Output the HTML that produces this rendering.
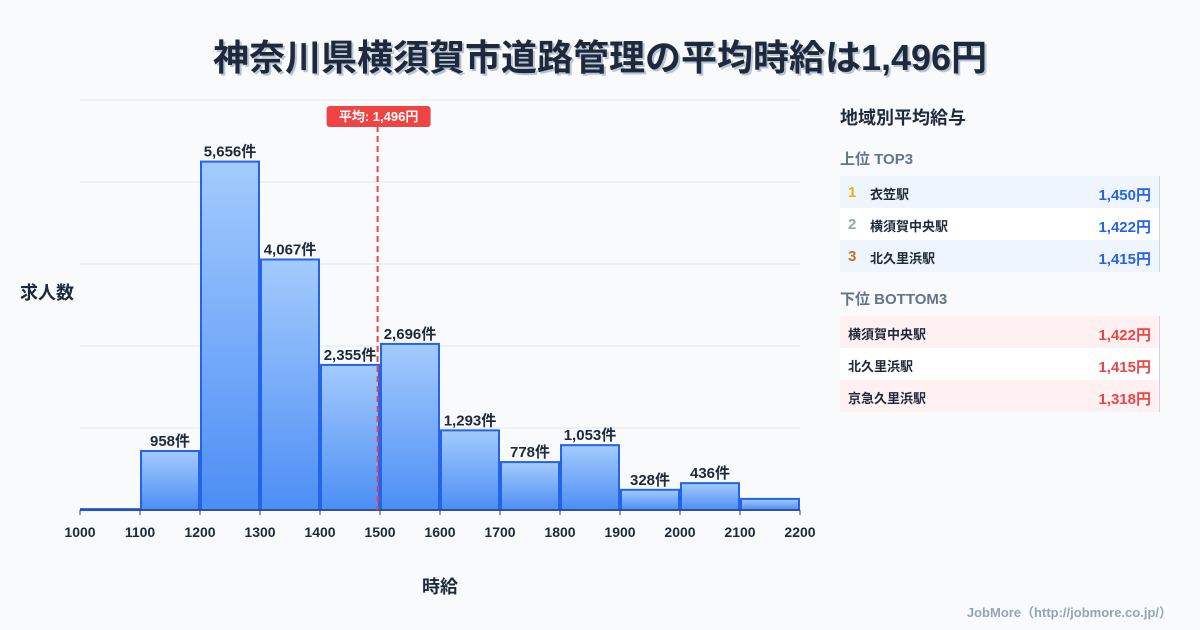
<!DOCTYPE html>
<html><head><meta charset="utf-8"><style>
body{margin:0;width:1200px;height:630px;background:#f8fafc;font-family:"Liberation Sans","Noto Sans CJK JP",sans-serif;position:relative;overflow:hidden;color:#1e293b}
.title{position:absolute;top:29px;left:0;width:1200px;text-align:center;font-size:36px;font-weight:bold;color:#1e293b;text-shadow:2px 2px 0 #b8c4d6}
.side{position:absolute;left:840px;width:320px}
.row{position:absolute;left:840px;width:320px;height:32px;font-size:13px;font-weight:bold;border-right:1px solid #cbd5e1;box-sizing:border-box}
.row span{position:absolute;top:8px}
.num{left:8px;font-size:15px}
.nm{left:30px}
.val{right:8px;font-size:15px}
</style></head><body>
<div class="title">神奈川県横須賀市道路管理の平均時給は1,496円</div>
<svg id="chart" width="820" height="630" style="position:absolute;left:0;top:0"></svg>
<div class="side" style="top:104px;font-size:18px;font-weight:bold">地域別平均給与</div>
<div class="side" style="top:148px;font-size:15px;font-weight:bold;color:#64748b">上位 TOP3</div>
<div class="row" style="top:176px;background:#eef5ff"><span class="num" style="color:#eab308">1</span><span class="nm">衣笠駅</span><span class="val" style="color:#2563eb">1,450円</span></div>
<div class="row" style="top:208px;background:#fff"><span class="num" style="color:#94a3b8">2</span><span class="nm">横須賀中央駅</span><span class="val" style="color:#2563eb">1,422円</span></div>
<div class="row" style="top:240px;background:#eef5ff"><span class="num" style="color:#c2711c">3</span><span class="nm">北久里浜駅</span><span class="val" style="color:#2563eb">1,415円</span></div>
<div class="side" style="top:288px;font-size:15px;font-weight:bold;color:#64748b">下位 BOTTOM3</div>
<div class="row" style="top:316px;background:#fff1f1"><span class="nm" style="left:8px">横須賀中央駅</span><span class="val" style="color:#ef4444">1,422円</span></div>
<div class="row" style="top:348px;background:#fff"><span class="nm" style="left:8px">北久里浜駅</span><span class="val" style="color:#ef4444">1,415円</span></div>
<div class="row" style="top:380px;background:#fff1f1"><span class="nm" style="left:8px">京急久里浜駅</span><span class="val" style="color:#ef4444">1,318円</span></div>
<div style="position:absolute;right:28px;top:602px;font-size:13px;font-weight:bold;color:#94a3b8">JobMore（http://jobmore.co.jp/）</div>
<script>
const binStarts=[1000,1100,1200,1300,1400,1500,1600,1700,1800,1900,2000,2100];
const counts=[15,958,5656,4067,2355,2696,1293,778,1053,328,436,180];
const showLabel=[false,true,true,true,true,true,true,true,true,true,true,false];
const xTicks=[1000,1100,1200,1300,1400,1500,1600,1700,1800,1900,2000,2100,2200];
const meanValue=1496;
const NS="http://www.w3.org/2000/svg";
const svg=document.getElementById('chart');
const x0=80,x1=800,yB=510,yT=100,xmin=1000,xmax=2200,ymax=6656;
const X=v=>x0+(v-xmin)/(xmax-xmin)*(x1-x0);
const Y=v=>yB-v/ymax*(yB-yT);
function mk(t,a){const e=document.createElementNS(NS,t);for(const k in a)e.setAttribute(k,a[k]);svg.appendChild(e);return e;}
const defs=mk('defs',{});
defs.innerHTML='<linearGradient id="g" x1="0" y1="0" x2="0" y2="1"><stop offset="0" stop-color="#a3cbfd"/><stop offset="1" stop-color="#4d8ef5"/></linearGradient>';
for(let i=0;i<=5;i++){const y=yB-i*(yB-yT)/5;const l=mk('line',{x1:x0,x2:x1,y1:y,y2:y,stroke:'#e2e8f0','stroke-width':1});

}
binStarts.forEach((b,i)=>{
 const xa=X(b)+1,xb=X(b+100)-1,y=Y(counts[i]);
 const r=mk('rect',{x:xa,y:y,width:xb-xa,height:Math.max(yB-y,1),fill:'url(#g)',stroke:'#2563eb','stroke-width':2});
 
 
 if(showLabel[i]){const t=mk('text',{x:(xa+xb)/2,y:y-5,'text-anchor':'middle','font-size':15,'font-weight':'bold',fill:'#1e293b'});
 t.textContent=counts[i].toLocaleString('en-US')+'件';
 
 }
});
const ax=mk('line',{x1:x0,x2:x1,y1:yB,y2:yB,stroke:'#334155','stroke-width':1});


xTicks.forEach(v=>{const tk=mk('line',{x1:X(v),x2:X(v),y1:yB,y2:yB+5,stroke:'#334155'});


const t=mk('text',{x:X(v),y:537,'text-anchor':'middle','font-size':14,'font-weight':'bold',fill:'#1e293b'});t.textContent=v;

});
const mx=X(meanValue);
const ml=mk('line',{x1:mx,x2:mx,y1:126,y2:yB,stroke:'#ef4444','stroke-width':2,'stroke-dasharray':'6,4'});


const mr=mk('rect',{x:mx-51,y:106,width:104,height:21,rx:3,fill:'#ef4444'});


const mt=mk('text',{x:mx+1,y:121,'text-anchor':'middle','font-size':13,'font-weight':'bold',fill:'#fff'});mt.textContent='平均: 1,496円';


const yt=mk('text',{x:20,y:299,'font-size':18,'font-weight':'bold',fill:'#1e293b'});yt.textContent='求人数';


const xt=mk('text',{x:440,y:593,'text-anchor':'middle','font-size':18,'font-weight':'bold',fill:'#1e293b'});xt.textContent='時給';


</script>
</body></html>
